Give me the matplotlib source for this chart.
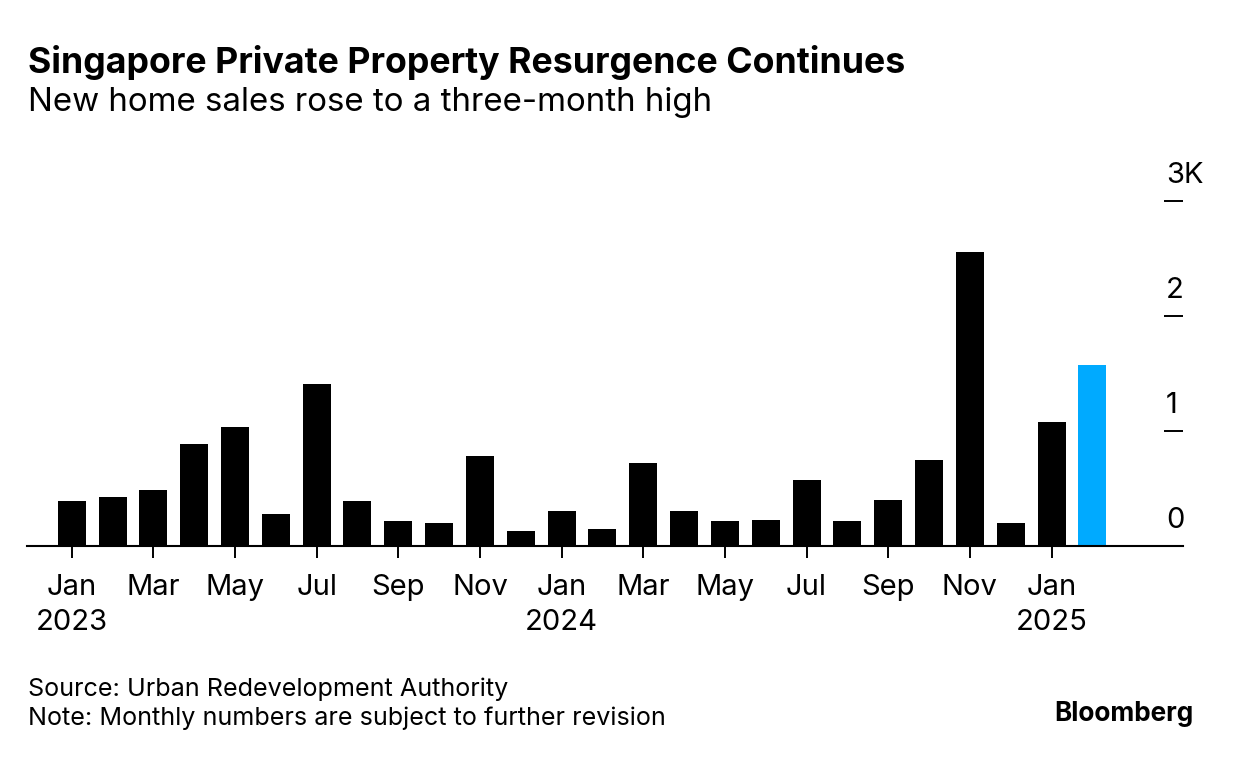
import numpy as np
import matplotlib
matplotlib.use('Agg')
import matplotlib.pyplot as plt
import matplotlib.transforms as mtransforms

plt.rcParams['font.family'] = ['Inter', 'DejaVu Sans']

# data: monthly new private home sales, Jan 2023 - Feb 2025
months = ['Jan 2023', 'Feb 2023', 'Mar 2023', 'Apr 2023', 'May 2023', 'Jun 2023',
          'Jul 2023', 'Aug 2023', 'Sep 2023', 'Oct 2023', 'Nov 2023', 'Dec 2023',
          'Jan 2024', 'Feb 2024', 'Mar 2024', 'Apr 2024', 'May 2024', 'Jun 2024',
          'Jul 2024', 'Aug 2024', 'Sep 2024', 'Oct 2024', 'Nov 2024', 'Dec 2024',
          'Jan 2025', 'Feb 2025']
sales = [385, 426, 484, 884, 1035, 270, 1406, 391, 214, 200, 783, 130,
         304, 148, 716, 298, 217, 226, 574, 209, 396, 744, 2559, 194,
         1078, 1571]
tick_labels = ['Jan\n2023', 'Mar', 'May', 'Jul', 'Sep', 'Nov',
               'Jan\n2024', 'Mar', 'May', 'Jul', 'Sep', 'Nov', 'Jan\n2025']
y_ticks = [0, 1000, 2000, 3000]
y_labels = ['0', '1', '2', '3K']

W, H = 1233, 758
fig = plt.figure(figsize=(W / 100, H / 100), dpi=100)

# axes placed in pixel terms
left, right, top, bottom = 27, 1183, 201, 545.5
ax = fig.add_axes([left / W, 1 - bottom / H, (right - left) / W, (bottom - top) / H])

x = np.arange(len(sales))
colors = ['#000000'] * (len(sales) - 1) + ['#00aaff']
ax.bar(x, sales, width=0.686, color=colors, zorder=2)

ax.set_xlim(-1.095, 27.22)
ax.set_ylim(0, 3000)

for s in ['top', 'left', 'right']:
    ax.spines[s].set_visible(False)
ax.spines['bottom'].set_linewidth(1.5)
ax.spines['bottom'].set_zorder(3)

ax.set_xticks(x[::2])
ax.set_xticklabels(tick_labels, fontsize=21, linespacing=1.4)
ax.tick_params(axis='x', length=8.5, width=1.4, pad=12, colors='black')

# right-hand y ticks as short dashes, labels sit above them
ax.yaxis.tick_right()
ax.set_yticks(y_ticks[1:])
ax.tick_params(axis='y', direction='in', length=13.5, width=1.4, labelright=False)
blend = mtransforms.blended_transform_factory(ax.transAxes, ax.transData)
for v, lab in zip(y_ticks, y_labels):
    ax.annotate(lab, xy=(1, v), xycoords=blend, xytext=(-17, 18),
                textcoords='offset pixels', ha='left', va='baseline', fontsize=21)

fig.text(28 / W, 1 - 62 / H, 'Singapore Private Property Resurgence Continues',
         fontsize=25.7, fontweight='bold', va='center', ha='left')
fig.text(28 / W, 1 - 102 / H, 'New home sales rose to a three-month high',
         fontsize=23.8, va='center', ha='left')
fig.text(28 / W, 1 - 689 / H, 'Source: Urban Redevelopment Authority',
         fontsize=18.1, va='center', ha='left')
fig.text(28 / W, 1 - 718 / H, 'Note: Monthly numbers are subject to further revision',
         fontsize=18.1, va='center', ha='left')
fig.text(1193 / W, 1 - 714 / H, 'Bloomberg', fontsize=18.8, fontweight='bold',
         va='center', ha='right')

fig.savefig('out.png', dpi=100)
